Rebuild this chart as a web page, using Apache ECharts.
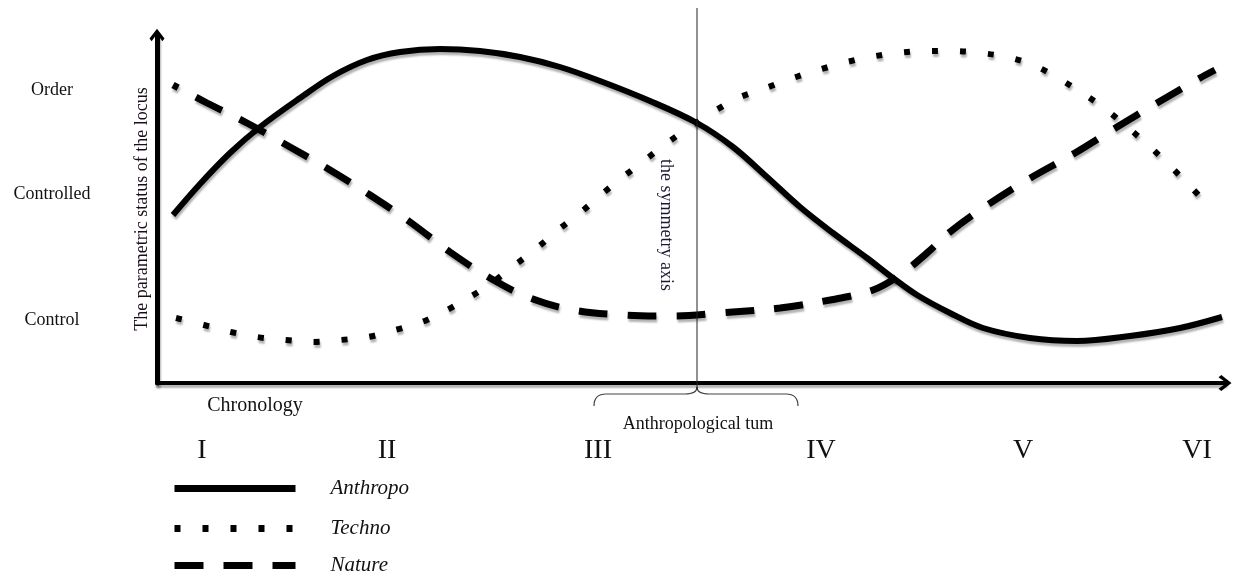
<!DOCTYPE html>
<html>
<head>
<meta charset="utf-8">
<script src="https://cdn.jsdelivr.net/npm/echarts@6/dist/echarts.min.js"></script>
<style>
html,body{margin:0;padding:0;background:#fff;}
#chart{width:1234px;height:575px;}
</style>
</head>
<body>
<div id="chart"></div>
<script>
// ---- data (chronology units on x, locus status units on y) ----
const seriesNames = ['Anthropo', 'Techno', 'Nature'];
const anthropo = [[16,168],[43,199],[73,230],[103,256],[143,285],[176,307],[210,323],[243,331],[283,334],[323,332],[363,326],[403,316],[443,302],[493,282],[540,260],[576,236],[610,206],[643,176],[676,150],[710,125],[736,105],[760,88],[793,70],[826,55],[873,45],[920,42],[973,47],[1023,55],[1065,66]];
const techno = [[19,65],[47,58],[74,51],[100,46],[129,43],[156,41],[183,43],[211,46],[238,53],[265,61],[290,73],[313,86],[336,101],[358,118],[380,135],[401,153],[423,170],[445,189],[466,206],[488,223],[510,240],[533,256],[556,271],[581,285],[606,294],[633,304],[658,312],[686,320],[713,326],[740,330],[768,332],[796,332],[823,330],[850,326],[876,318],[901,305],[925,290],[947,275],[969,257],[990,239],[1010,220],[1030,200],[1051,178]];
const nature = [[16,298],[50,280],[90,260],[133,236],[173,213],[213,188],[253,161],[293,131],[333,105],[373,85],[416,73],[466,68],[515,67],[563,70],[623,75],[673,83],[716,93],[743,108],[770,130],[793,151],[823,173],[870,203],[918,230],[960,256],[1000,280],[1043,305],[1058,313]];
const yLabelValues = [63, 189, 293];
const yLabels = ['Control', 'Controlled', 'Order'];
const periodValues = [45, 230, 441, 664, 866, 1040];
const periodLabels = ['I', 'II', 'III', 'IV', 'V', 'VI'];
const symmetryX = 540;
const xAxisTitle = 'Chronology';
const yAxisTitle = 'The parametric status of the locus';
const symmetryTitle = 'the symmetry axis';
const turnTitle = 'Anthropological tum';

const SERIF = '"Liberation Serif", "Times New Roman", serif';
const arrowUp = 'path://M7,0 L14,9 L12,11.5 L7,4.5 L2,11.5 L0,9 Z';
const shadow = {shadowColor: 'rgba(0,0,0,0.3)', shadowBlur: 2, shadowOffsetX: 1, shadowOffsetY: 3};
const legendTops = [478, 518, 555];

function legendFor(i) {
  return {
    orient: 'vertical', left: 171, top: legendTops[i], padding: 0,
    itemWidth: 121, itemHeight: 24,
    data: [seriesNames[i]],
    lineStyle: {width: 7, dashOffset: 0},
    itemStyle: {opacity: 0, color: 'rgba(0,0,0,0)', borderWidth: 0},
    textStyle: {fontFamily: SERIF, fontStyle: 'italic', fontSize: 21, color: '#111', padding: [0, 0, 0, 30]}
  };
}

const chart = echarts.init(document.getElementById('chart'));
chart.setOption({
  animation: false,
  backgroundColor: '#fff',
  color: ['#000', '#000', '#000'],
  grid: {left: 157, right: 9, top: 35, bottom: 192, containLabel: false, outerBoundsMode: 'none'},
  xAxis: {
    type: 'value', min: 0, max: 1068,
    splitLine: {show: false},
    axisTick: {show: false},
    axisLine: {show: true, onZero: false, symbol: ['none', arrowUp], symbolSize: [16, 13],
      lineStyle: Object.assign({color: '#000', width: 4}, shadow)},
    axisLabel: {
      customValues: periodValues,
      formatter: v => periodLabels[periodValues.indexOf(v)] || '',
      margin: 54, fontFamily: SERIF, fontSize: 28, color: '#111'
    }
  },
  yAxis: {
    type: 'value', min: 0, max: 348,
    splitLine: {show: false},
    axisTick: {show: false},
    axisLine: {show: true, onZero: false, symbol: ['none', arrowUp], symbolSize: [15, 13],
      lineStyle: Object.assign({color: '#000', width: 5}, shadow)},
    axisLabel: {
      customValues: yLabelValues,
      formatter: v => yLabels[yLabelValues.indexOf(v)] || '',
      align: 'center', margin: 105, fontFamily: SERIF, fontSize: 18, color: '#111'
    },
    name: yAxisTitle, nameLocation: 'middle', nameGap: 6, nameRotate: 90, nameMoveOverlap: false,
    nameTextStyle: {fontFamily: SERIF, fontSize: 18, color: '#1a0d1a'}
  },
  legend: [legendFor(0), legendFor(1), legendFor(2)],
  series: [
    {name: seriesNames[0], type: 'line', data: anthropo, symbol: 'none', smooth: 0.35, z: 3,
      itemStyle: {color: '#000'},
      lineStyle: Object.assign({color: '#000', width: 6, type: 'solid'}, shadow)},
    {name: seriesNames[1], type: 'line', data: techno, symbol: 'none', smooth: 0.35, z: 2,
      itemStyle: {color: '#000'},
      lineStyle: Object.assign({color: '#000', width: 6, type: [6, 22], cap: 'butt'}, shadow)},
    {name: seriesNames[2], type: 'line', data: nature, symbol: 'none', smooth: 0.35, z: 2,
      itemStyle: {color: '#000'},
      lineStyle: Object.assign({color: '#000', width: 7, type: [29, 20], dashOffset: 23, cap: 'butt'}, shadow)}
  ]
});

// annotations positioned from the axes
const sx = chart.convertToPixel({xAxisIndex: 0}, symmetryX);
const ay = chart.convertToPixel({yAxisIndex: 0}, 0);
const brace = {stroke: '#444', lineWidth: 1.2, fill: null};
chart.setOption({
  graphic: [
    {type: 'line', shape: {x1: sx, y1: 8, x2: sx, y2: ay + 7}, style: {stroke: '#222', lineWidth: 1}, z: 10},
    {type: 'text', x: sx - 31, y: 225, rotation: -Math.PI / 2,
      style: {text: symmetryTitle, font: '18px ' + SERIF, fill: '#1a1a33', align: 'center', verticalAlign: 'middle'}, z: 10},
    {type: 'bezierCurve', shape: {x1: sx - 103, y1: ay + 23, cpx1: sx - 103, cpy1: ay + 11, x2: sx - 91, y2: ay + 11}, style: brace},
    {type: 'line', shape: {x1: sx - 91, y1: ay + 11, x2: sx - 12, y2: ay + 11}, style: brace},
    {type: 'bezierCurve', shape: {x1: sx - 12, y1: ay + 11, cpx1: sx, cpy1: ay + 11, x2: sx, y2: ay + 4}, style: brace},
    {type: 'bezierCurve', shape: {x1: sx, y1: ay + 4, cpx1: sx, cpy1: ay + 11, x2: sx + 12, y2: ay + 11}, style: brace},
    {type: 'line', shape: {x1: sx + 12, y1: ay + 11, x2: sx + 89, y2: ay + 11}, style: brace},
    {type: 'bezierCurve', shape: {x1: sx + 89, y1: ay + 11, cpx1: sx + 101, cpy1: ay + 11, x2: sx + 101, y2: ay + 23}, style: brace},
    {type: 'text', x: sx + 1, y: ay + 41,
      style: {text: turnTitle, font: '18px ' + SERIF, fill: '#111', align: 'center', verticalAlign: 'middle'}},
    {type: 'text', x: 255, y: ay + 23,
      style: {text: xAxisTitle, font: '20px ' + SERIF, fill: '#111', align: 'center', verticalAlign: 'middle'}}
  ]
});
</script>
</body>
</html>
